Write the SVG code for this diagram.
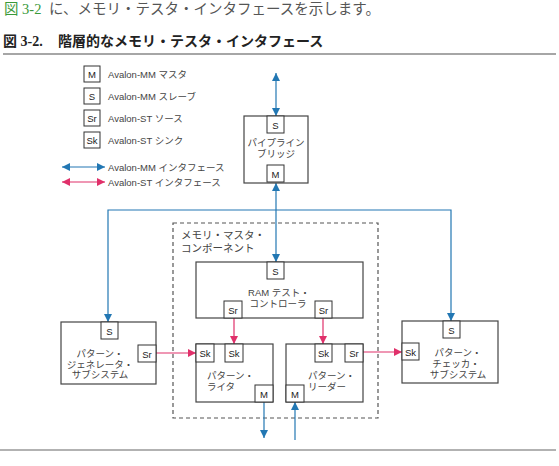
<svg xmlns="http://www.w3.org/2000/svg" width="559" height="466" viewBox="0 0 559 466">
<style>
.t{font-family:"Liberation Sans","Noto Sans CJK JP",sans-serif;font-size:9.5px;fill:#444}
.p{font-family:"Liberation Sans","Noto Sans CJK JP",sans-serif;font-size:9.5px;fill:#222;text-anchor:middle}
.c{text-anchor:middle}
.box{fill:#fff;stroke:#444;stroke-width:1.2}
.port{fill:#fff;stroke:#333;stroke-width:1}
.mm{stroke:#2277b3;stroke-width:1.2;fill:none}
.st{stroke:#e0306a;stroke-width:1.2;fill:none}
</style>
<defs>
<marker id="ab" viewBox="0 0 10 10" refX="10" refY="5" markerWidth="8" markerHeight="8" markerUnits="userSpaceOnUse" orient="auto-start-reverse"><path d="M0,0L10,5L0,10z" fill="#2277b3"/></marker>
<marker id="ar" viewBox="0 0 10 10" refX="10" refY="5" markerWidth="8" markerHeight="8" markerUnits="userSpaceOnUse" orient="auto-start-reverse"><path d="M0,0L10,5L0,10z" fill="#e0306a"/></marker>
</defs>
<rect width="559" height="466" fill="#fff"/>
<text y="14" style="font-family:'Liberation Serif','Noto Sans CJK JP',serif;font-size:14.5px;fill:#555"><tspan x="4" fill="#3a9a3a">図 3-2</tspan><tspan x="49">に、メモリ・テスタ・インタフェースを示します。</tspan></text>
<text y="46" style="font-family:'Liberation Serif','Noto Sans CJK JP',serif;font-size:14px;font-weight:bold;fill:#222"><tspan x="3">図 3-2.</tspan><tspan x="58">階層的なメモリ・テスタ・インタフェース</tspan></text>
<line x1="3" y1="54" x2="556" y2="54" stroke="#888" stroke-width="1.5"/>
<line x1="0" y1="450" x2="556" y2="450" stroke="#666" stroke-width="1.2"/>

<g id="legend">
<rect class="port" x="84" y="66" width="16" height="16"/><text class="p" x="92" y="78">M</text>
<text class="t" x="108" y="78">Avalon-MM マスタ</text>
<rect class="port" x="84" y="88" width="16" height="16"/><text class="p" x="92" y="100">S</text>
<text class="t" x="108" y="100">Avalon-MM スレーブ</text>
<rect class="port" x="84" y="110" width="16" height="16"/><text class="p" x="92" y="122">Sr</text>
<text class="t" x="108" y="122">Avalon-ST ソース</text>
<rect class="port" x="84" y="132" width="16" height="16"/><text class="p" x="92" y="144">Sk</text>
<text class="t" x="108" y="144">Avalon-ST シンク</text>
<line class="mm" x1="62" y1="167" x2="105" y2="167" marker-start="url(#ab)" marker-end="url(#ab)"/>
<text class="t" x="108" y="171">Avalon-MM インタフェース</text>
<line class="st" x1="62" y1="182" x2="105" y2="182" marker-start="url(#ar)" marker-end="url(#ar)"/>
<text class="t" x="108" y="186">Avalon-ST インタフェース</text>
</g>

<g id="memory-master">
<rect x="173" y="223" width="205" height="195" fill="none" stroke="#555" stroke-width="1.2" stroke-dasharray="4,3"/>
<text class="t" x="181" y="239" style="font-size:10.5px">メモリ・マスタ・</text>
<text class="t" x="181" y="252" style="font-size:10.5px">コンポーネント</text>
</g>

<g id="connectors">
<line class="mm" x1="276" y1="73" x2="276" y2="116" marker-start="url(#ab)" marker-end="url(#ab)"/>
<line class="mm" x1="276" y1="183" x2="276" y2="262" marker-start="url(#ab)" marker-end="url(#ab)"/>
<polyline class="mm" points="108,322 108,210 451,210 451,321" marker-start="url(#ab)" marker-end="url(#ab)"/>
<line class="mm" x1="264" y1="402" x2="264" y2="438" marker-end="url(#ab)"/>
<line class="mm" x1="295" y1="440" x2="295" y2="402" marker-end="url(#ab)"/>
<line class="st" x1="234" y1="318" x2="234" y2="344" marker-end="url(#ar)"/>
<line class="st" x1="323" y1="318" x2="323" y2="344" marker-end="url(#ar)"/>
<line class="st" x1="156" y1="353" x2="196" y2="353" marker-end="url(#ar)"/>
<line class="st" x1="363" y1="352" x2="402" y2="352" marker-end="url(#ar)"/>
</g>

<g id="bridge">
<rect class="box" x="244" y="116" width="64" height="67"/>
<rect class="port" x="267" y="116" width="17" height="17"/><text class="p" x="275.5" y="128.5">S</text>
<rect class="port" x="267" y="165" width="17" height="17"/><text class="p" x="275.5" y="177.5">M</text>
<text class="t c" x="276" y="146">パイプライン</text>
<text class="t c" x="276" y="157">ブリッジ</text>
</g>

<g id="ram-controller">
<rect class="box" x="196" y="262" width="167" height="56"/>
<rect class="port" x="267" y="262" width="17" height="17"/><text class="p" x="275.5" y="274.5">S</text>
<rect class="port" x="224" y="301" width="18" height="17"/><text class="p" x="233" y="313.5">Sr</text>
<rect class="port" x="315" y="301" width="17" height="17"/><text class="p" x="323.5" y="313.5">Sr</text>
<text class="t c" x="279" y="296">RAM テスト・</text>
<text class="t c" x="278" y="307">コントローラ</text>
</g>

<g id="pattern-writer">
<rect class="box" x="196" y="344" width="77" height="58"/>
<rect class="port" x="196" y="344" width="18" height="18"/><text class="p" x="205" y="357">Sk</text>
<rect class="port" x="225" y="344" width="18" height="18"/><text class="p" x="234" y="357">Sk</text>
<rect class="port" x="255" y="385" width="18" height="17"/><text class="p" x="264" y="397.5">M</text>
<text class="t" x="207" y="379">パターン・</text>
<text class="t" x="207" y="390">ライタ</text>
</g>

<g id="pattern-reader">
<rect class="box" x="286" y="344" width="77" height="58"/>
<rect class="port" x="315" y="344" width="17" height="18"/><text class="p" x="323.5" y="357">Sk</text>
<rect class="port" x="345" y="344" width="18" height="18"/><text class="p" x="354" y="357">Sr</text>
<rect class="port" x="286" y="385" width="18" height="17"/><text class="p" x="295" y="397.5">M</text>
<text class="t" x="308" y="379">パターン・</text>
<text class="t" x="308" y="390">リーダー</text>
</g>

<g id="pattern-generator">
<rect class="box" x="61" y="322" width="95" height="62"/>
<rect class="port" x="101" y="322" width="17" height="17"/><text class="p" x="109.5" y="334.5">S</text>
<rect class="port" x="138" y="345" width="18" height="17"/><text class="p" x="147" y="357.5">Sr</text>
<text class="t c" x="100" y="357">パターン・</text>
<text class="t c" x="100" y="367.5">ジェネレータ・</text>
<text class="t c" x="100" y="378">サブシステム</text>
</g>

<g id="pattern-checker">
<rect class="box" x="402" y="321" width="96" height="62"/>
<rect class="port" x="443" y="321" width="17" height="17"/><text class="p" x="451.5" y="333.5">S</text>
<rect class="port" x="402" y="343" width="17" height="17"/><text class="p" x="410.5" y="355.5">Sk</text>
<text class="t c" x="458" y="356">パターン・</text>
<text class="t c" x="456" y="367">チェッカ・</text>
<text class="t c" x="458" y="378">サブシステム</text>
</g>
</svg>
